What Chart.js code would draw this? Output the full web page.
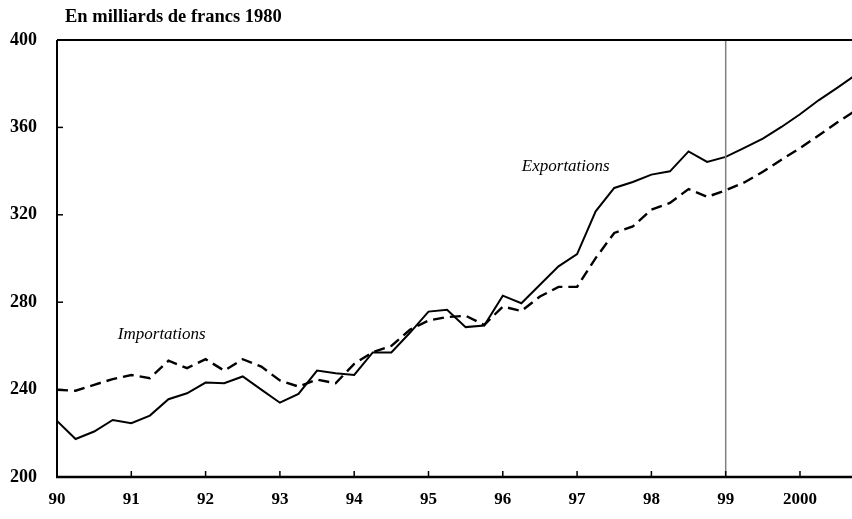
<!DOCTYPE html>
<html>
<head>
<meta charset="utf-8">
<script src="https://cdn.jsdelivr.net/npm/chart.js@4/dist/chart.umd.min.js"></script>
<style>
  html, body { margin: 0; padding: 0; background: #fff; }
  #wrap { position: relative; width: 852px; height: 519px; }
</style>
</head>
<body>
<div id="wrap"><canvas id="c" width="852" height="519"></canvas></div>
<script>
// Year tick labels (one per 4 quarters, starting 1990 Q1)
const yearLabels = ['90','91','92','93','94','95','96','97','98','99','2000'];
// Quarterly values, 1990 Q1 .. 2000 Q4, billions of 1980 francs
const exportations = [225.7, 217.4, 220.8, 226.1, 224.6, 228.1, 235.6, 238.3, 243.2, 242.9,
  246.0, 240.0, 234.0, 238.0, 248.7, 247.5, 246.7, 257.0, 257.0, 266.0,
  275.7, 276.5, 268.6, 269.3, 283.0, 279.5, 288.0, 296.4, 302.0, 321.6,
  332.3, 335.0, 338.4, 339.9, 349.0, 344.2, 346.5, 350.6, 354.9, 360.2,
  366.0, 372.4, 378.1, 384.0];
const importations = [239.9, 239.5, 242.2, 244.8, 246.7, 245.2, 253.2, 249.8, 253.9, 248.7,
  253.9, 250.5, 244.2, 241.4, 244.6, 242.9, 251.8, 257.1, 260.0, 267.4,
  271.6, 273.2, 273.8, 269.6, 278.0, 276.0, 282.6, 287.0, 287.0, 300.2,
  311.7, 314.7, 322.3, 325.4, 331.8, 328.2, 331.2, 334.8, 339.7, 345.2,
  350.5, 356.3, 362.2, 367.8];
const yTicks = [200, 240, 280, 320, 360, 400];
const forecastStart = 36; // 1999 Q1
const titleText = 'En milliards de francs 1980';
const labelImport = { text: 'Importations', x: 5.64, y: 265.1 };
const labelExport = { text: 'Exportations', x: 27.39, y: 342.3 };

const serif = '"Liberation Serif", "Times New Roman", serif';

const framePlugin = {
  id: 'frame',
  afterDatasetsDraw(chart) {
    const { ctx, chartArea: a, scales: { x, y } } = chart;
    ctx.save();
    // vertical forecast line
    const vx = x.getPixelForValue(forecastStart);
    ctx.strokeStyle = '#808080';
    ctx.lineWidth = 1.5;
    ctx.beginPath(); ctx.moveTo(vx, a.top); ctx.lineTo(vx, a.bottom); ctx.stroke();
    // frame
    ctx.strokeStyle = '#000';
    ctx.lineWidth = 2;
    ctx.beginPath(); ctx.moveTo(a.left, a.top); ctx.lineTo(a.right, a.top); ctx.stroke();
    ctx.beginPath(); ctx.moveTo(a.left, a.top); ctx.lineTo(a.left, a.bottom); ctx.stroke();
    ctx.lineWidth = 2.5;
    ctx.beginPath(); ctx.moveTo(a.left - 1, a.bottom); ctx.lineTo(a.right, a.bottom); ctx.stroke();
    // inward ticks
    ctx.lineWidth = 1.5;
    yTicks.forEach(v => {
      if (v === 200 || v === 400) return;
      const py = y.getPixelForValue(v);
      ctx.beginPath(); ctx.moveTo(a.left, py); ctx.lineTo(a.left + 6, py); ctx.stroke();
    });
    for (let i = 1; i < yearLabels.length; i++) {
      const px = x.getPixelForValue(i * 4);
      ctx.beginPath(); ctx.moveTo(px, a.bottom); ctx.lineTo(px, a.bottom - 6); ctx.stroke();
    }
    // annotations
    ctx.fillStyle = '#000';
    ctx.font = 'italic 17px ' + serif;
    ctx.textAlign = 'center';
    ctx.textBaseline = 'middle';
    ctx.fillText(labelImport.text, x.getPixelForValue(labelImport.x), y.getPixelForValue(labelImport.y));
    ctx.fillText(labelExport.text, x.getPixelForValue(labelExport.x), y.getPixelForValue(labelExport.y));
    // unit title
    ctx.font = 'bold 18.5px ' + serif;
    ctx.textAlign = 'left';
    ctx.fillText(titleText, 65, 17);
    ctx.restore();
  }
};

new Chart(document.getElementById('c'), {
  type: 'line',
  data: {
    datasets: [
      {
        label: 'Exportations',
        data: exportations.map((v, i) => ({ x: i, y: v })),
        borderColor: '#000', borderWidth: 2, pointRadius: 0, tension: 0, fill: false
      },
      {
        label: 'Importations',
        data: importations.map((v, i) => ({ x: i, y: v })),
        borderColor: '#000', borderWidth: 2.4, borderDash: [11, 6], pointRadius: 0, tension: 0, fill: false
      }
    ]
  },
  options: {
    responsive: false,
    animation: false,
    devicePixelRatio: 1,
    layout: { padding: { top: 40, right: 0, left: 0, bottom: 0 } },
    plugins: { legend: { display: false }, tooltip: { enabled: false }, title: { display: false } },
    scales: {
      x: {
        type: 'linear', min: 0, max: 42.8,
        grid: { display: false, drawTicks: false },
        border: { display: false },
        afterBuildTicks(s) { s.ticks = yearLabels.map((_, i) => ({ value: i * 4 })); },
        ticks: {
          autoSkip: false, maxRotation: 0, padding: 12, color: '#000',
          font: { family: serif, weight: 'bold', size: 17 },
          callback: (v) => yearLabels[Math.round(v / 4)]
        },
        afterFit(s) { s.height = 42; }
      },
      y: {
        min: 200, max: 400,
        grid: { display: false, drawTicks: false },
        border: { display: false },
        afterBuildTicks(s) { s.ticks = yTicks.map(v => ({ value: v })); },
        ticks: {
          padding: 20, color: '#000',
          font: { family: serif, weight: 'bold', size: 18 }
        },
        afterFit(s) { s.width = 57; }
      }
    }
  },
  plugins: [framePlugin]
});
</script>
</body>
</html>
